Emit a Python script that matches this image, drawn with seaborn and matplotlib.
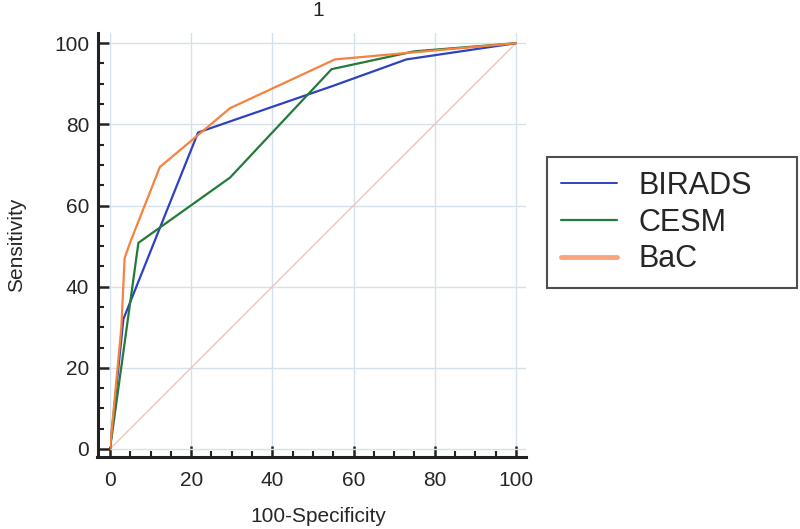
import pandas as pd
import seaborn as sns
import matplotlib.pyplot as plt
from matplotlib.ticker import MultipleLocator

# ROC curve points
birads_x = [0, 3.3, 21.7, 55, 73, 100]
birads_y = [0, 32, 78, 89.5, 96, 100]
cesm_x = [0, 7.0, 29.6, 54.6, 75, 100]
cesm_y = [0, 50.8, 66.9, 93.6, 98, 100]
bac_x = [0, 2.8, 3.6, 5.0, 12.3, 29.6, 55.4, 100]
bac_y = [0, 30, 47, 51, 69.5, 84, 96, 100]

names = ['BIRADS', 'CESM', 'BaC']
colors = ['#2d42c0', '#237a3b', '#f7813f']

df = pd.concat([
    pd.DataFrame({'x': birads_x, 'y': birads_y, 'model': 'BIRADS'}),
    pd.DataFrame({'x': cesm_x, 'y': cesm_y, 'model': 'CESM'}),
    pd.DataFrame({'x': bac_x, 'y': bac_y, 'model': 'BaC'}),
])

sns.set_style('white')
plt.rcParams['font.family'] = ['Liberation Sans', 'DejaVu Sans']

fig = plt.figure(figsize=(8, 5.29), dpi=100)
ax = fig.add_axes([0.1375, 0.136, 0.52, 0.8015])

ax.grid(True, color='#d6e1ea', linewidth=1)
ax.set_axisbelow(True)

sns.lineplot(x=[0, 100], y=[0, 100], color='#e8c6bd', linewidth=1, ax=ax)
sns.lineplot(data=df, x='x', y='y', hue='model', hue_order=names,
             palette=colors, estimator=None, sort=False, linewidth=1.6,
             ax=ax, legend=False)

ax.set_xticks([0, 20, 40, 60, 80, 100])
ax.set_yticks([0, 20, 40, 60, 80, 100])
ax.xaxis.set_minor_locator(MultipleLocator(5))
ax.yaxis.set_minor_locator(MultipleLocator(5))
ax.set_xlim(0, 102.5)
ax.set_ylim(-2, 102.5)

ax.tick_params(which='major', direction='in', length=8, width=1.8,
               labelsize=15, left=True, bottom=True, color='#222222')
ax.tick_params(axis='x', which='major', pad=10)
ax.tick_params(axis='y', which='major', pad=6)
ax.tick_params(which='minor', direction='in', length=4, width=1.5,
               left=True, bottom=True, color='#222222')

for s in ['top', 'right']:
    ax.spines[s].set_visible(False)
for s in ['left', 'bottom']:
    ax.spines[s].set_linewidth(2.2)
    ax.spines[s].set_color('#222222')
ax.spines['left'].set_position(('outward', 9))
ax.spines['bottom'].set_bounds(-3.1, 102.5)

ax.set_xlabel('100-Specificity', fontsize=15, labelpad=12)
ax.set_ylabel('Sensitivity', fontsize=15, labelpad=20)
ax.set_title('1', fontsize=15, pad=12)

handles = [plt.Line2D([], [], color=c, linewidth=lw)
           for c, lw in zip(colors, [1.4, 1.6, 3.5])]
handles[2].set_color('#f9a47c')
leg = fig.legend(handles, names, loc='upper left',
                 bbox_to_anchor=(0.684, 0.456, 0.312, 0.247), mode='expand',
                 fontsize=22, frameon=True, fancybox=False,
                 handlelength=1.85, handletextpad=0.7, borderpad=0.45,
                 labelspacing=0.22, borderaxespad=0)
leg.get_frame().set_edgecolor('#222222')
leg.get_frame().set_linewidth(1.5)

plt.savefig('out.png', dpi=100)
